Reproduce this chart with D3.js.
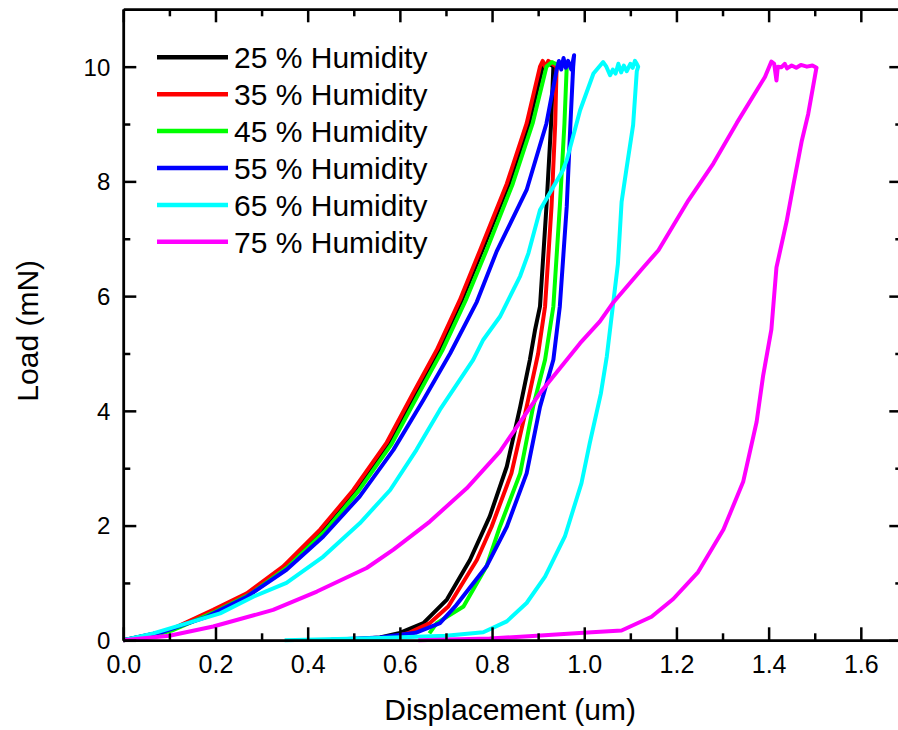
<!DOCTYPE html>
<html>
<head>
<meta charset="utf-8">
<script src="https://cdn.jsdelivr.net/npm/d3@7"></script>
<style>
  html, body { margin: 0; padding: 0; background: #fff; }
  svg { display: block; font-family: "Liberation Sans", Arial, sans-serif; }
</style>
</head>
<body>
<svg id="chart" width="898" height="730"></svg>
<script>
// Load-displacement curves, [displacement (um), load (mN)], loading then unloading
const h25 = [[0,0],[0.1,0.17],[0.197,0.52],[0.27,0.81],[0.35,1.28],[0.43,1.92],[0.503,2.61],[0.575,3.43],[0.633,4.3],[0.684,5.05],[0.734,5.92],[0.779,6.8],[0.837,7.96],[0.88,9.0],[0.91,10.0],[0.925,10.05],[0.933,10.0],
  [0.928,9.0],[0.918,7.56],[0.904,5.82],[0.893,5.4],[0.882,4.89],[0.861,4.07],[0.832,3.03],[0.795,2.16],[0.752,1.4],[0.702,0.71],[0.651,0.3],[0.6,0.13],[0.557,0.05],[0.5,0.02]];
const h35 = [[0,0],[0.05,0.06],[0.101,0.18],[0.195,0.53],[0.268,0.82],[0.347,1.29],[0.427,1.93],[0.499,2.62],[0.571,3.44],[0.629,4.31],[0.68,5.06],[0.73,5.93],[0.774,6.8],[0.832,7.96],[0.875,9.01],[0.904,10.0],[0.91,10.1],[0.915,10.0],[0.922,10.1],[0.93,10.05],[0.94,10.0],
  [0.937,9.0],[0.929,7.56],[0.915,5.82],[0.9,5.0],[0.875,4.07],[0.842,2.91],[0.799,1.98],[0.767,1.4],[0.705,0.59],[0.665,0.3],[0.62,0.13],[0.58,0.05]];
const h45 = [[0,0],[0.05,0.05],[0.105,0.17],[0.2,0.5],[0.275,0.8],[0.356,1.27],[0.437,1.9],[0.51,2.6],[0.582,3.42],[0.641,4.3],[0.692,5.05],[0.743,5.93],[0.788,6.8],[0.845,7.96],[0.888,9.01],[0.918,10.0],[0.93,10.08],[0.945,10.02],[0.955,10.1],[0.962,10.0],
  [0.957,9.0],[0.947,7.56],[0.933,5.82],[0.915,4.89],[0.889,4.07],[0.861,2.91],[0.817,1.98],[0.788,1.29],[0.738,0.59],[0.68,0.3],[0.664,0.12]];
const h55 = [[0,0],[0.087,0.15],[0.181,0.41],[0.268,0.76],[0.354,1.23],[0.434,1.81],[0.513,2.51],[0.586,3.32],[0.651,4.19],[0.709,5.0],[0.767,5.9],[0.81,6.78],[0.875,7.85],[0.918,9.01],[0.94,9.94],[0.945,10.1],[0.95,9.95],[0.955,10.15],[0.96,9.98],[0.965,10.1],[0.972,9.95],[0.978,10.2],[0.976,10.0],
  [0.97,9.0],[0.962,7.56],[0.947,5.82],[0.933,4.89],[0.904,4.07],[0.875,2.91],[0.832,1.98],[0.788,1.29],[0.72,0.59],[0.687,0.3],[0.634,0.13],[0.557,0.05],[0.45,0.01]];
const h65 = [[0,0],[0.065,0.12],[0.21,0.47],[0.282,0.76],[0.354,1.0],[0.434,1.46],[0.513,2.04],[0.579,2.62],[0.636,3.32],[0.687,4.02],[0.759,4.89],[0.781,5.24],[0.817,5.64],[0.861,6.35],[0.879,6.75],[0.904,7.5],[0.954,8.2],[0.962,8.37],[0.991,9.24],[1.02,9.88],[1.041,10.08],
  [1.048,10.0],[1.056,9.85],[1.062,9.95],[1.068,9.88],[1.074,10.05],[1.08,9.9],[1.086,10.02],[1.092,9.92],[1.1,10.05],[1.105,9.98],[1.11,10.1],[1.114,10.05],[1.117,10.0],
  [1.114,9.92],[1.106,8.98],[1.092,8.24],[1.081,7.64],[1.073,6.56],[1.063,5.89],[1.049,4.95],[1.036,4.3],[1.012,3.44],[0.994,2.74],[0.958,1.81],[0.915,1.11],[0.875,0.65],[0.832,0.33],[0.781,0.14],[0.7,0.08],[0.557,0.04],[0.35,0.0]];
const h75 = [[0,0],[0.1,0.08],[0.195,0.24],[0.325,0.53],[0.42,0.85],[0.528,1.26],[0.586,1.58],[0.665,2.07],[0.745,2.65],[0.817,3.29],[0.904,4.31],[0.991,5.18],[1.034,5.56],[1.063,5.89],[1.128,6.5],[1.161,6.8],[1.226,7.67],[1.28,8.31],[1.331,9.02],[1.392,9.82],[1.406,10.09],
  [1.412,10.05],[1.417,9.76],[1.42,10.0],[1.428,9.99],[1.435,10.05],[1.44,9.97],[1.45,10.02],[1.46,9.98],[1.47,10.03],[1.483,10.0],[1.495,10.02],[1.504,9.98],
  [1.503,9.95],[1.486,9.18],[1.472,8.71],[1.453,7.91],[1.439,7.3],[1.417,6.5],[1.406,5.42],[1.388,4.61],[1.374,3.81],[1.345,2.77],[1.302,1.93],[1.247,1.19],[1.193,0.72],[1.146,0.41],[1.081,0.17],[0.998,0.13],[0.897,0.08],[0.795,0.03],[0.64,0.0]];

const seriesNames = ["25 % Humidity", "35 % Humidity", "45 % Humidity", "55 % Humidity", "65 % Humidity", "75 % Humidity"];
const seriesColors = ["#000000", "#ff0000", "#00ff00", "#0000ff", "#00ffff", "#ff00ff"];
const seriesData = [h25, h35, h45, h55, h65, h75];

const xTicks = [0, 0.2, 0.4, 0.6, 0.8, 1.0, 1.2, 1.4, 1.6];
const xMinor = [0.1, 0.3, 0.5, 0.7, 0.9, 1.1, 1.3, 1.5];
const yTicks = [0, 2, 4, 6, 8, 10];
const yMinor = [1, 3, 5, 7, 9];

const svg = d3.select("#chart");
const m = { left: 123.3, top: 9.3 };
const w = 779, h = 631;

const x = d3.scaleLinear().domain([0, 1.69]).range([0, w]);
const y = d3.scaleLinear().domain([0, 11]).range([h, 0]);

const g = svg.append("g").attr("transform", `translate(${m.left},${m.top})`);

// curves
const line = d3.line().x(d => x(d[0])).y(d => y(d[1]));
g.selectAll("path.curve")
  .data(seriesData)
  .join("path")
  .attr("class", "curve")
  .attr("d", line)
  .attr("fill", "none")
  .attr("stroke", (d, i) => seriesColors[i])
  .attr("stroke-width", 4)
  .attr("stroke-linejoin", "round");

// axes (ticks inward, mirrored on top/right)
const tickStyle = sel => {
  sel.select(".domain").attr("stroke", "#000").attr("stroke-width", 2.5);
  sel.selectAll(".tick line").attr("stroke", "#000").attr("stroke-width", 2.5);
};

const fmtX = d3.format(".1f");

g.append("g").attr("transform", `translate(0,${h})`)
  .call(d3.axisBottom(x).tickValues(xMinor).tickSize(-7).tickFormat("").tickSizeOuter(0))
  .call(tickStyle);
const xAxisG = g.append("g").attr("transform", `translate(0,${h})`)
  .call(d3.axisBottom(x).tickValues(xTicks).tickSize(-13).tickFormat(fmtX).tickSizeOuter(0))
  .call(tickStyle);
xAxisG.selectAll("text")
  .attr("fill", "#000")
  .attr("font-family", '"Liberation Sans", Arial, sans-serif')
  .attr("font-size", 25)
  .attr("y", 33)
  .attr("dy", null);

g.append("g")
  .call(d3.axisTop(x).tickValues(xMinor).tickSize(-7).tickFormat("").tickSizeOuter(0))
  .call(tickStyle);
g.append("g")
  .call(d3.axisTop(x).tickValues(xTicks).tickSize(-13).tickFormat("").tickSizeOuter(0))
  .call(tickStyle);

g.append("g")
  .call(d3.axisLeft(y).tickValues(yMinor).tickSize(-7).tickFormat("").tickSizeOuter(0))
  .call(tickStyle);
const yAxisG = g.append("g")
  .call(d3.axisLeft(y).tickValues(yTicks).tickSize(-13).tickFormat(d3.format("d")).tickSizeOuter(0))
  .call(tickStyle);
yAxisG.selectAll("text")
  .attr("fill", "#000")
  .attr("font-family", '"Liberation Sans", Arial, sans-serif')
  .attr("font-size", 24)
  .attr("x", -13)
  .attr("dy", "0.35em");

g.append("g").attr("transform", `translate(${w},0)`)
  .call(d3.axisRight(y).tickValues(yMinor).tickSize(-7).tickFormat("").tickSizeOuter(0))
  .call(tickStyle);
g.append("g").attr("transform", `translate(${w},0)`)
  .call(d3.axisRight(y).tickValues(yTicks).tickSize(-13).tickFormat("").tickSizeOuter(0))
  .call(tickStyle);

// axis titles
svg.append("text")
  .attr("x", m.left + (897 - m.left) / 2)
  .attr("y", 720)
  .attr("text-anchor", "middle")
  .attr("font-size", 30)
  .text("Displacement (um)");

svg.append("text")
  .attr("transform", `translate(38,${m.top + h / 2 + 6}) rotate(-90)`)
  .attr("text-anchor", "middle")
  .attr("font-size", 30)
  .text("Load (mN)");

// legend
const legend = svg.append("g");
const rows = legend.selectAll("g")
  .data(seriesNames)
  .join("g")
  .attr("transform", (d, i) => `translate(157,${57.3 + i * 36.9})`);
rows.append("line")
  .attr("x1", 0).attr("x2", 71)
  .attr("stroke", (d, i) => seriesColors[i])
  .attr("stroke-width", 4.5);
rows.append("text")
  .attr("x", 77).attr("y", 11)
  .attr("font-size", 30)
  .text(d => d);
</script>
</body>
</html>
